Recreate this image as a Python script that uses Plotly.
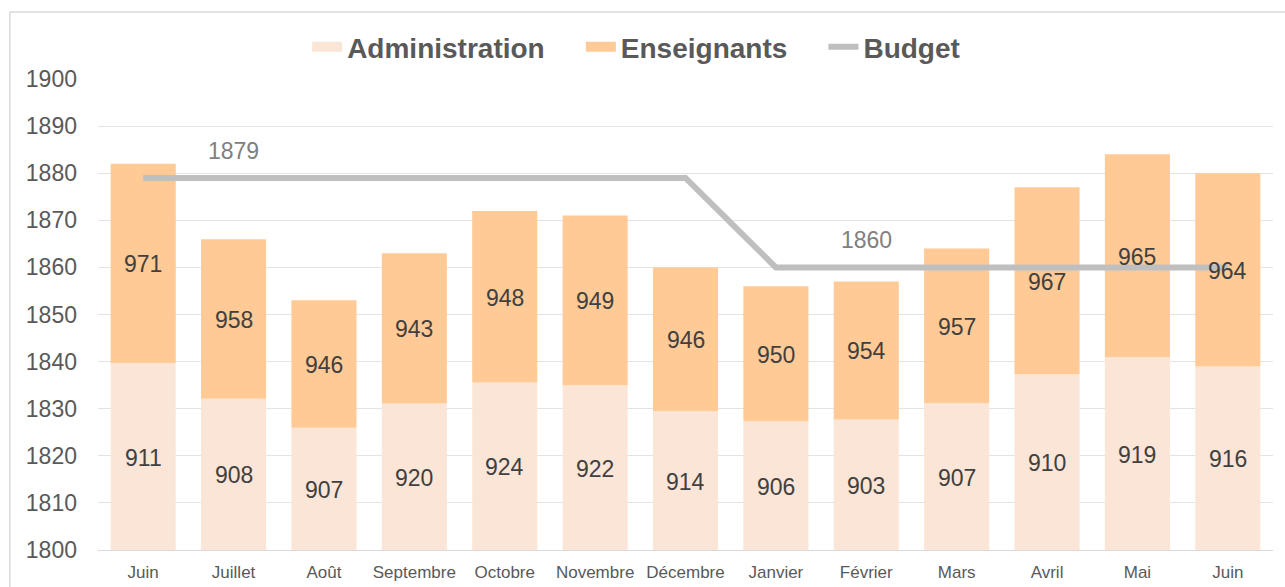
import plotly.graph_objects as go

months = ["Juin", "Juillet", "Août", "Septembre", "Octobre", "Novembre", "Décembre",
          "Janvier", "Février", "Mars", "Avril", "Mai", "Juin"]
administration = [911, 908, 907, 920, 924, 922, 914, 906, 903, 907, 910, 919, 916]
enseignants = [971, 958, 946, 943, 948, 949, 946, 950, 954, 957, 967, 965, 964]
budget = [1879, 1879, 1879, 1879, 1879, 1879, 1879, 1860, 1860, 1860, 1860, 1860, 1860]
budget_label_idx = [1, 8]

Y_MIN, Y_MAX = 1800, 1900

x = list(range(len(months)))
totals = [a + e for a, e in zip(administration, enseignants)]
# visible segment heights above the axis minimum, proportional to each component
adm_h = [(t - Y_MIN) * a / t for a, t in zip(administration, totals)]
ens_h = [(t - Y_MIN) * e / t for e, t in zip(enseignants, totals)]
ens_base = [Y_MIN + h for h in adm_h]
adm_mid = [Y_MIN + h / 2 for h in adm_h]
ens_mid = [b + h / 2 for b, h in zip(ens_base, ens_h)]

FONT = "Arial, Liberation Sans, sans-serif"
C_ADM = "#FBE5D6"
C_ENS = "#FFCA96"
C_BUD = "#BFBFBF"
LBL = dict(family=FONT, size=23, color="#404040")

fig = go.Figure()
fig.add_trace(go.Bar(
    x=x, y=adm_h, base=[Y_MIN] * len(x), name="Administration", showlegend=False,
    marker=dict(color=C_ADM, line=dict(width=0)), width=0.72, hoverinfo="skip",
))
fig.add_trace(go.Bar(
    x=x, y=ens_h, base=ens_base, name="Enseignants", showlegend=False,
    marker=dict(color=C_ENS, line=dict(width=0)), width=0.72, hoverinfo="skip",
))
fig.add_trace(go.Scatter(
    x=x, y=budget, name="Budget", mode="lines", showlegend=False,
    line=dict(color=C_BUD, width=6), hoverinfo="skip",
))
# legend entries (wide rectangle symbols like the original)
NB = "\u00a0" * 4
for name, col, w in [("Administration" + NB, C_ADM, 14), ("Enseignants" + NB, C_ENS, 14),
                     ("Budget", C_BUD, 6)]:
    fig.add_trace(go.Scatter(x=[None], y=[None], mode="lines", name=name,
                             line=dict(color=col, width=w), showlegend=True))

# data labels (annotations sit above the budget line)
for xi, ym, v in zip(x, adm_mid, administration):
    fig.add_annotation(x=xi, y=ym, text=str(v), showarrow=False, yshift=-1, font=LBL)
for xi, ym, v in zip(x, ens_mid, enseignants):
    fig.add_annotation(x=xi, y=ym, text=str(v), showarrow=False, yshift=-1, font=LBL)

for i in budget_label_idx:
    fig.add_annotation(
        x=x[i], y=budget[i], text=str(budget[i]), showarrow=False,
        yshift=27, font=dict(family=FONT, size=23, color="#808080"),
    )

# outer chart border
fig.add_shape(type="rect", xref="paper", yref="paper",
              x0=-0.075, x1=1.2, y0=-0.08, y1=1.1423,
              line=dict(color="#D9D9D9", width=1.5), layer="below")

fig.update_layout(
    width=1285, height=587,
    margin=dict(l=98, r=12, t=79, b=37),
    paper_bgcolor="white", plot_bgcolor="white",
    barmode="overlay",
    showlegend=True,
    legend=dict(orientation="h", x=0.458, xanchor="center", y=1.068, yanchor="middle",
                font=dict(family=FONT, size=28, color="#595959", weight="bold"),
                traceorder="normal", itemwidth=30, bgcolor="rgba(0,0,0,0)"),
    xaxis=dict(tickmode="array", tickvals=x, ticktext=months,
               range=[-0.5, len(x) - 0.5], automargin=False,
               tickfont=dict(family=FONT, size=17, color="#595959"),
               showgrid=False, zeroline=False, showline=True,
               linecolor="#D9D9D9", linewidth=1, ticks="", ticklabelstandoff=7),
    yaxis=dict(range=[Y_MIN, Y_MAX], dtick=10, tick0=Y_MIN, automargin=False,
               tickfont=dict(family=FONT, size=23, color="#595959"),
               gridcolor="#E3E3E3", gridwidth=1, zeroline=False, showline=False,
               ticks="", ticklabelstandoff=20),
    font=dict(family=FONT),
    hovermode=False,
)

fig.write_html("out.html", config={"displayModeBar": False},
               post_script="document.body.style.margin='0px';document.body.style.overflow='hidden';")
